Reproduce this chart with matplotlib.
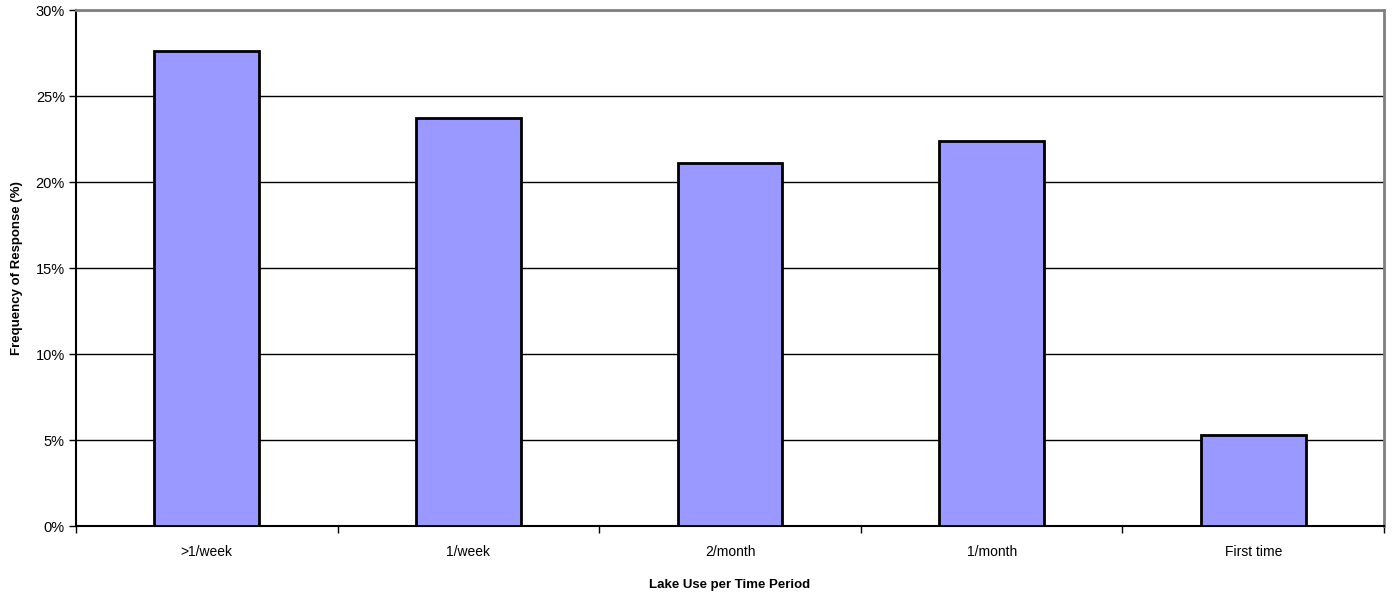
import numpy as np
import matplotlib.pyplot as plt
from matplotlib.ticker import PercentFormatter

plt.rcParams['font.family'] = ['Liberation Sans', 'DejaVu Sans']

categories = ['>1/week', '1/week', '2/month', '1/month', 'First time']
frequency = [27.6, 23.7, 21.1, 22.4, 5.3]

fig = plt.figure(figsize=(13.92, 5.97), dpi=100)
ax = fig.add_axes([0.0546, 0.1189, 0.9397, 0.8643])

x = np.arange(len(categories))
ax.bar(x, frequency, width=0.4, color='#9999ff', edgecolor='black', linewidth=2, zorder=3)

ax.set_xlim(-0.5, len(categories) - 0.5)
ax.set_ylim(0, 30)
ax.set_yticks(np.arange(0, 31, 5))
ax.yaxis.set_major_formatter(PercentFormatter(decimals=0))
ax.yaxis.grid(True, color='black', linewidth=1, zorder=0)

# ticks sit on the category boundaries, labels in the middle
ax.set_xticks(np.arange(-0.5, len(categories)), minor=False)
ax.set_xticklabels([])
ax.set_xticks(x, minor=True)
ax.set_xticklabels(categories, minor=True)
ax.tick_params(axis='x', which='minor', length=0, pad=14, labelsize=10)
ax.tick_params(axis='x', which='major', length=5, width=1, direction='out')
ax.tick_params(axis='y', length=5, width=1, direction='out', labelsize=10.5, pad=3)

for side in ['left', 'bottom']:
    ax.spines[side].set_color('black')
    ax.spines[side].set_linewidth(1.5)
for side in ['top', 'right']:
    ax.spines[side].set_color('#808080')
    ax.spines[side].set_linewidth(2)

ax.set_xlabel('Lake Use per Time Period', fontsize=9.5, fontweight='bold', labelpad=14)
ax.set_ylabel('Frequency of Response (%)', fontsize=9.5, fontweight='bold', labelpad=9)

fig.savefig('out.png', dpi=100)
